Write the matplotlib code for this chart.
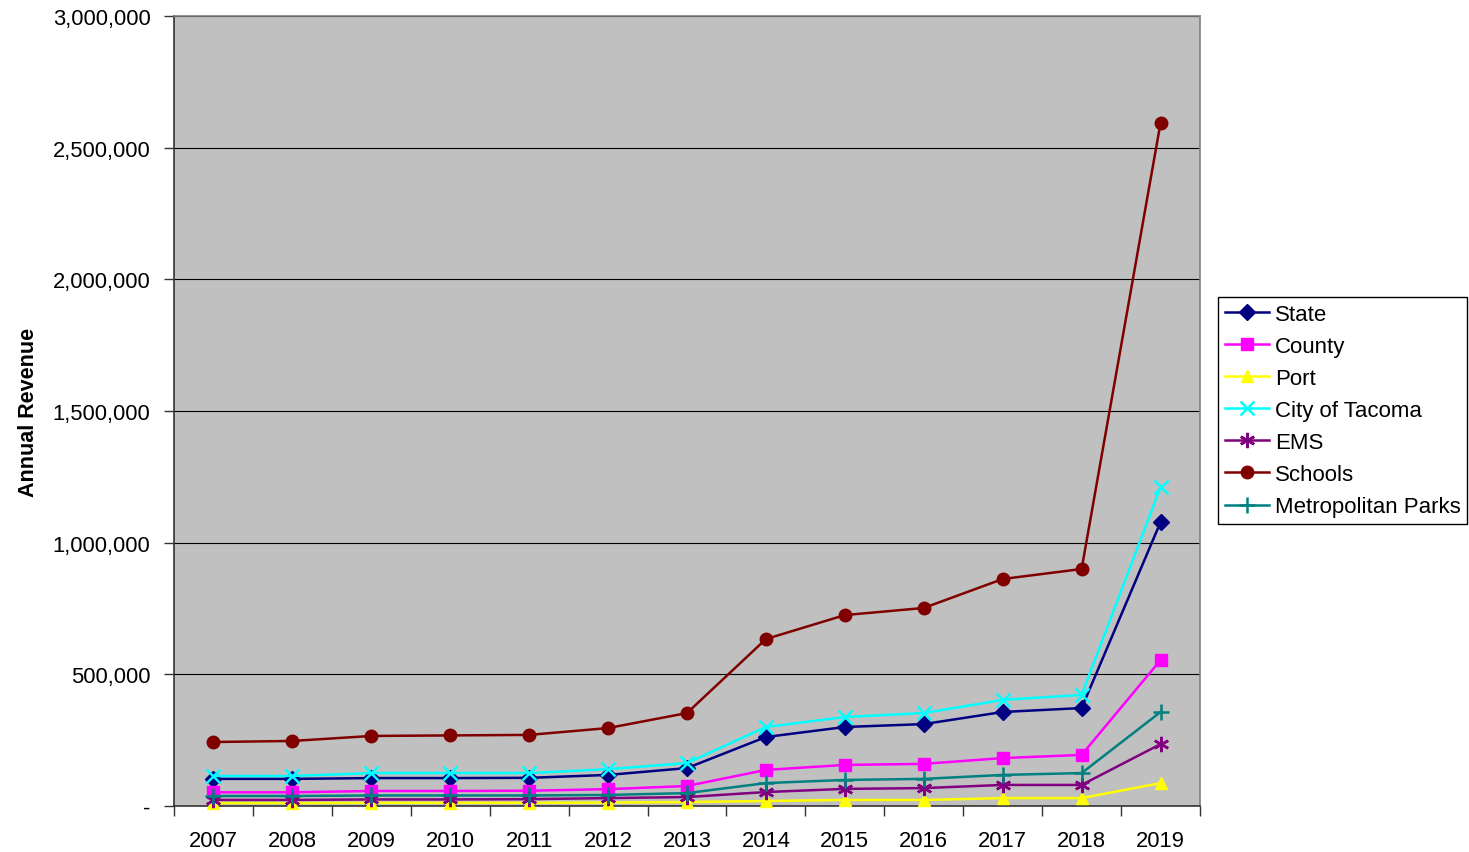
import matplotlib
matplotlib.use('Agg')
from matplotlib import pyplot as plt
from matplotlib.ticker import FuncFormatter

plt.rcParams['font.family'] = ['Liberation Sans', 'DejaVu Sans']

# Años y recaudación anual de cada entidad
anyos = ['2007', '2008', '2009', '2010', '2011', '2012', '2013',
         '2014', '2015', '2016', '2017', '2018', '2019']
state = [103000, 103000, 106000, 106000, 107000, 118000, 144000,
         262000, 300000, 311000, 357000, 372000, 1078000]
county = [52000, 52000, 57000, 57000, 58000, 64000, 76000,
          137000, 156000, 160000, 182000, 194000, 554000]
port = [11000, 11000, 12000, 12000, 12000, 13000, 15000,
        19000, 23000, 23000, 30000, 30000, 87000]
tacoma = [114000, 114000, 125000, 125000, 125000, 140000, 163000,
          300000, 338000, 353000, 403000, 422000, 1211000]
ems = [23000, 23000, 25000, 25000, 26000, 30000, 34000,
       53000, 65000, 68000, 80000, 80000, 235000]
schools = [243000, 247000, 266000, 268000, 270000, 296000, 353000,
           634000, 725000, 752000, 862000, 900000, 2594000]
parks = [38000, 38000, 40000, 40000, 40000, 42000, 49000,
         87000, 99000, 103000, 118000, 125000, 357000]

series = [
    ('State', state, '#000080', 'D', 8),
    ('County', county, '#FF00FF', 's', 9),
    ('Port', port, '#FFFF00', '^', 9),
    ('City of Tacoma', tacoma, '#00FFFF', 'x', 10),
    ('EMS', ems, '#800080', (6, 2, 0), 11),
    ('Schools', schools, '#800000', 'o', 9),
    ('Metropolitan Parks', parks, '#008080', '+', 11),
]

fig = plt.figure(figsize=(14.69, 8.53), dpi=100)
ax = fig.add_axes([174 / 1469, 1 - 807 / 853, 1026 / 1469, 790 / 853])
ax.set_facecolor('#C0C0C0')

x = list(range(len(anyos)))
for nombre, valores, color, marcador, tam in series:
    ax.plot(x, valores, color=color, lw=1.8, marker=marcador, markersize=tam,
            markeredgewidth=1.8 if marcador in ('x', '+', (6, 2, 0)) else 1,
            markeredgecolor=color, label=nombre, clip_on=False, zorder=3)

# Eje y con etiquetas separadas por comas y '-' para el cero
ax.set_ylim(0, 3000000)
ax.set_yticks(range(0, 3000001, 500000))
ax.yaxis.set_major_formatter(FuncFormatter(lambda v, p: '-' if v == 0 else f'{int(v):,}'))
ax.yaxis.grid(True, color='black', lw=0.8)
ax.set_axisbelow(True)
ax.set_ylabel('Annual Revenue', fontsize=15.5, fontweight='bold', labelpad=10)

# Eje x: marcas entre categorías y etiquetas en el centro
ax.set_xlim(-0.5, len(anyos) - 0.5)
ax.set_xticks([i - 0.5 for i in range(len(anyos) + 1)])
ax.set_xticklabels([])
ax.set_xticks(x, minor=True)
ax.set_xticklabels(anyos, minor=True)
ax.tick_params(axis='x', which='minor', length=0, pad=17, labelsize=15.8)
ax.tick_params(axis='x', which='major', length=7, width=1, color='#333333')
ax.tick_params(axis='y', length=7, width=1, color='#333333', labelsize=15.8, pad=10)

for lado in ('top', 'right'):
    ax.spines[lado].set_color('#808080')
    ax.spines[lado].set_linewidth(1.2)
for lado in ('left', 'bottom'):
    ax.spines[lado].set_color('#333333')
    ax.spines[lado].set_linewidth(1.2)

leg = ax.legend(loc='upper left', bbox_to_anchor=(1218 / 1469, 1 - 298 / 853),
                bbox_transform=fig.transFigure, fontsize=16, frameon=True,
                fancybox=False, edgecolor='black', framealpha=1,
                handlelength=2.0, handletextpad=0.25, labelspacing=0.5,
                borderpad=0.3, borderaxespad=0)
leg.get_frame().set_linewidth(1)

fig.savefig('out.png', dpi=100)
